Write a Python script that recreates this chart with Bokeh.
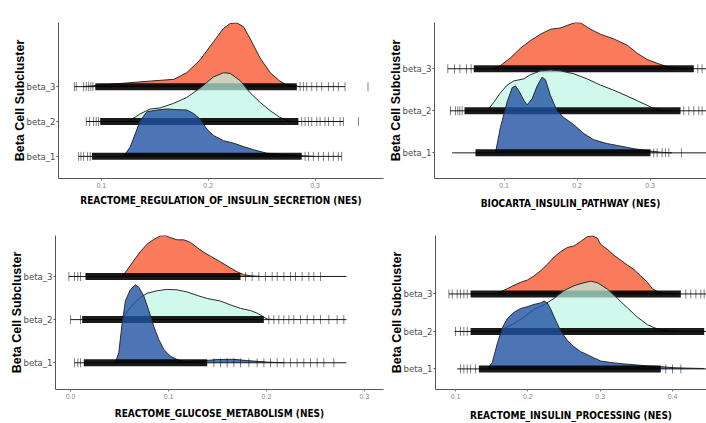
import math
from bokeh.plotting import figure
from bokeh.layouts import row, column, Spacer
from bokeh.models import FixedTicker, Range1d
from bokeh.embed import file_html
from bokeh.resources import INLINE

# ---------------- data ----------------
groups = ["beta_1", "beta_2", "beta_3"]
group_pos = [1, 2, 3]

# Panel 1: REACTOME_REGULATION_OF_INSULIN_SECRETION
p1_label = "REACTOME_REGULATION_OF_INSULIN_SECRETION (NES)"
p1_xticks = [0.1, 0.2, 0.3]
p1_b3_x = [0.0835, 0.108, 0.146, 0.168, 0.180, 0.1925, 0.205, 0.2143, 0.2206, 0.2268, 0.233, 0.239, 0.2486, 0.258, 0.267, 0.2735, 0.286]
p1_b3_h = [0, 0.066, 0.16, 0.21, 0.40, 0.77, 1.29, 1.67, 1.81, 1.83, 1.72, 1.39, 0.82, 0.40, 0.16, 0.05, 0]
p1_b2_x = [0.1255, 0.1364, 0.1458, 0.155, 0.1676, 0.180, 0.1925, 0.205, 0.2143, 0.2206, 0.230, 0.239, 0.2486, 0.258, 0.267, 0.2766]
p1_b2_h = [0, 0.22, 0.36, 0.39, 0.52, 0.69, 0.96, 1.28, 1.40, 1.38, 1.17, 0.83, 0.55, 0.31, 0.12, 0.0]
p1_b1_x = [0.1209, 0.1271, 0.1364, 0.1427, 0.152, 0.1614, 0.1707, 0.180, 0.1863, 0.1925, 0.1988, 0.205, 0.2143, 0.2237, 0.233, 0.2424, 0.2548, 0.2704, 0.286, 0.2984]
p1_b1_h = [0, 0.27, 1.02, 1.28, 1.33, 1.36, 1.34, 1.33, 1.23, 1.07, 0.78, 0.60, 0.45, 0.38, 0.28, 0.19, 0.09, 0.05, 0.02, 0]
p1_b3_range = [0.0748, 0.328]
p1_b3_dense = [0.0944, 0.2829]
p1_b3_ticks = [0.0748, 0.0766, 0.0835, 0.086, 0.0882, 0.0903, 0.0922, 0.286, 0.2891, 0.2922, 0.2969, 0.3016, 0.3062, 0.3125, 0.3171, 0.3218, 0.328, 0.3495]
p1_b2_range = [0.086, 0.3265]
p1_b2_dense = [0.099, 0.2844]
p1_b2_ticks = [0.086, 0.0891, 0.0928, 0.0953, 0.0975, 0.2875, 0.2907, 0.2938, 0.2969, 0.3016, 0.3047, 0.3093, 0.3125, 0.3171, 0.3234, 0.3265, 0.3405]
p1_b1_range = [0.0788, 0.3249]
p1_b1_dense = [0.0913, 0.2875]
p1_b1_ticks = [0.0788, 0.081, 0.0835, 0.0872, 0.0897, 0.2907, 0.2938, 0.2984, 0.3031, 0.3078, 0.3125, 0.3171, 0.3218, 0.3249]

# Panel 2: BIOCARTA_INSULIN_PATHWAY
p2_label = "BIOCARTA_INSULIN_PATHWAY (NES)"
p2_xticks = [0.1, 0.2, 0.3]
p2_b3_x = [0.0858, 0.095, 0.1087, 0.1224, 0.136, 0.1498, 0.1635, 0.1772, 0.1863, 0.1977, 0.2046, 0.2183, 0.232, 0.2502, 0.2685, 0.2822, 0.2959, 0.3096, 0.3233, 0.3416, 0.3598]
p2_b3_h = [0, 0.075, 0.26, 0.49, 0.67, 0.82, 0.94, 0.97, 1.03, 1.10, 1.09, 0.94, 0.82, 0.71, 0.56, 0.37, 0.22, 0.13, 0.05, 0.015, 0]
p2_b2_x = [0.0767, 0.0858, 0.095, 0.1041, 0.1132, 0.1269, 0.1361, 0.1498, 0.1635, 0.1772, 0.1954, 0.2137, 0.232, 0.2502, 0.2685, 0.2822, 0.2959, 0.305, 0.3142, 0.3279]
p2_b2_h = [0, 0.20, 0.43, 0.61, 0.71, 0.76, 0.86, 0.95, 0.97, 0.95, 0.88, 0.76, 0.61, 0.49, 0.35, 0.24, 0.13, 0.05, 0.015, 0]
p2_b1_x = [0.0881, 0.095, 0.1041, 0.111, 0.1155, 0.12, 0.127, 0.1315, 0.1384, 0.1452, 0.152, 0.1566, 0.1635, 0.1726, 0.1817, 0.1954, 0.2091, 0.2228, 0.2411, 0.2594, 0.2776, 0.2959, 0.3142, 0.33]
p2_b1_h = [0, 0.61, 1.21, 1.55, 1.59, 1.48, 1.25, 1.14, 1.29, 1.59, 1.80, 1.74, 1.36, 0.99, 0.84, 0.67, 0.46, 0.31, 0.22, 0.16, 0.10, 0.05, 0.015, 0]
p2_b3_range = [0.0228, 0.38]
p2_b3_dense = [0.0584, 0.3598]
p2_b3_ticks = [0.0228, 0.032, 0.0393, 0.0484, 0.0548, 0.3653, 0.3712]
p2_b2_range = [0.0256, 0.38]
p2_b2_dense = [0.0457, 0.3416]
p2_b2_ticks = [0.0265, 0.0333, 0.0365, 0.0393, 0.0425, 0.3461, 0.353, 0.3598, 0.3667, 0.3712]
p2_b1_range = [0.0288, 0.38]
p2_b1_dense = [0.0607, 0.3005]
p2_b1_ticks = [0.305, 0.3096, 0.3164, 0.321, 0.3256, 0.3429]

# Panel 3: REACTOME_GLUCOSE_METABOLISM
p3_label = "REACTOME_GLUCOSE_METABOLISM (NES)"
p3_xticks = [0.0, 0.1, 0.2, 0.3]
p3_b3_x = [0.0527, 0.0578, 0.0646, 0.0714, 0.0782, 0.085, 0.0918, 0.0969, 0.102, 0.1088, 0.1156, 0.1224, 0.1293, 0.136, 0.1429, 0.153, 0.163, 0.170, 0.1769, 0.1837, 0.1939]
p3_b3_h = [0, 0.15, 0.37, 0.58, 0.75, 0.86, 0.94, 0.95, 0.90, 0.85, 0.85, 0.79, 0.67, 0.56, 0.47, 0.34, 0.20, 0.11, 0.04, 0.015, 0]
p3_b2_x = [0.0527, 0.0578, 0.0646, 0.0714, 0.0782, 0.0884, 0.0986, 0.1088, 0.119, 0.1293, 0.1395, 0.1463, 0.1531, 0.1633, 0.1735, 0.1837, 0.1905, 0.1973, 0.2007, 0.2075]
p3_b2_h = [0, 0.19, 0.37, 0.52, 0.61, 0.67, 0.70, 0.69, 0.64, 0.56, 0.49, 0.46, 0.43, 0.34, 0.26, 0.21, 0.15, 0.06, 0.015, 0]
p3_b1_x = [0.0459, 0.0493, 0.0527, 0.0561, 0.0612, 0.0663, 0.0697, 0.0748, 0.0799, 0.085, 0.0901, 0.0952, 0.102, 0.1088, 0.1156, 0.1327, 0.1497, 0.1667, 0.1803, 0.2007, 0.2177]
p3_b1_h = [0, 0.24, 0.91, 1.44, 1.70, 1.81, 1.75, 1.55, 1.21, 0.84, 0.54, 0.31, 0.15, 0.075, 0.03, 0.04, 0.075, 0.08, 0.05, 0.015, 0]
p3_b3_range = [-0.0017, 0.2816]
p3_b3_dense = [0.0153, 0.1735]
p3_b3_ticks = [-0.0017, 0.0041, 0.0075, 0.0102, 0.1786, 0.1854, 0.1922, 0.199, 0.2058, 0.2109, 0.2177, 0.2245, 0.2296, 0.2364, 0.2432, 0.2483, 0.2551]
p3_b2_range = [0.0, 0.2816]
p3_b2_dense = [0.0119, 0.1973]
p3_b2_ticks = [0.0, 0.0102, 0.2024, 0.2075, 0.2126, 0.2177, 0.2228, 0.2279, 0.2347, 0.2415, 0.2483, 0.2551, 0.2636, 0.2721, 0.2789]
p3_b1_range = [0.0041, 0.2816]
p3_b1_dense = [0.0136, 0.1395]
p3_b1_ticks = [0.0041, 0.0075, 0.0102, 0.1463, 0.1531, 0.1599, 0.1667, 0.1735, 0.182, 0.1905, 0.1973, 0.2041, 0.2109, 0.2177, 0.2245, 0.2313, 0.2381, 0.2449, 0.2517, 0.2585, 0.2687]

# Panel 4: REACTOME_INSULIN_PROCESSING
p4_label = "REACTOME_INSULIN_PROCESSING (NES)"
p4_xticks = [0.1, 0.2, 0.3, 0.4]
p4_b3_x = [0.1531, 0.1623, 0.1715, 0.1808, 0.19, 0.1992, 0.2084, 0.2177, 0.2269, 0.2361, 0.2454, 0.2546, 0.2638, 0.273, 0.2823, 0.2892, 0.2961, 0.3007, 0.31, 0.3192, 0.3284, 0.3377, 0.3469, 0.3561, 0.3653, 0.3723, 0.3792, 0.3884, 0.4023]
p4_b3_h = [0, 0.06, 0.14, 0.23, 0.31, 0.37, 0.48, 0.62, 0.79, 0.98, 1.13, 1.24, 1.28, 1.40, 1.53, 1.55, 1.49, 1.32, 1.19, 1.03, 0.90, 0.77, 0.65, 0.48, 0.31, 0.14, 0.06, 0.015, 0]
p4_b2_x = [0.1577, 0.1669, 0.1808, 0.1946, 0.2084, 0.2223, 0.2361, 0.25, 0.2638, 0.2777, 0.2869, 0.2961, 0.31, 0.3238, 0.3377, 0.3515, 0.3653, 0.3746, 0.3838, 0.3976, 0.4069]
p4_b2_h = [0, 0.08, 0.21, 0.38, 0.59, 0.71, 0.88, 1.09, 1.22, 1.30, 1.34, 1.30, 1.13, 0.88, 0.63, 0.38, 0.18, 0.10, 0.04, 0.01, 0]
p4_b1_x = [0.1438, 0.1508, 0.1577, 0.1646, 0.1715, 0.1808, 0.19, 0.1992, 0.2084, 0.2177, 0.2223, 0.2269, 0.2315, 0.2384, 0.2454, 0.2546, 0.2638, 0.273, 0.2823, 0.2915, 0.3007, 0.3146, 0.3284, 0.3469, 0.3653, 0.3838, 0.4023, 0.4207, 0.4438]
p4_b1_h = [0, 0.17, 0.67, 1.09, 1.34, 1.51, 1.61, 1.66, 1.72, 1.76, 1.81, 1.76, 1.60, 1.30, 1.01, 0.76, 0.59, 0.46, 0.38, 0.29, 0.21, 0.17, 0.14, 0.11, 0.08, 0.06, 0.03, 0.02, 0.01]
p4_b3_range = [0.0908, 0.45]
p4_b3_dense = [0.1208, 0.4115]
p4_b3_ticks = [0.0908, 0.0954, 0.1023, 0.1069, 0.1115, 0.1162, 0.4184, 0.4253, 0.4323, 0.4392, 0.4438]
p4_b2_range = [0.0986, 0.45]
p4_b2_dense = [0.1208, 0.4438]
p4_b2_ticks = [0.1, 0.1069, 0.1115, 0.1162]
p4_b1_range = [0.1023, 0.45]
p4_b1_dense = [0.1323, 0.3838]
p4_b1_ticks = [0.1069, 0.1115, 0.1162, 0.1208, 0.1277, 0.3907, 0.4, 0.4115]

# ---------------- styling ----------------
FILL = {3: ("#F97B5B", 1.0), 2: ("#BDF5E6", 0.7), 1: ("#2152A3", 0.8)}
NARROW = "'DejaVu Sans Condensed', 'Liberation Sans Narrow', 'Liberation Sans', sans-serif"


def panel(width, height, borders, xr, yr, xticks, xlabel, dens, rugs, xl_standoff=3):
    left, right, top, bottom = borders
    p = figure(width=width, height=height, output_backend="svg", toolbar_location=None,
               x_range=Range1d(*xr), y_range=Range1d(*yr),
               min_border_left=left, min_border_right=right,
               min_border_top=top, min_border_bottom=bottom)
    p.outline_line_color = None
    p.xgrid.visible = False
    p.ygrid.visible = False
    p.background_fill_color = "white"

    for base in [3, 2, 1]:
        xs, hs = dens[base]
        color, alpha = FILL[base]
        ys = [base + h for h in hs]
        p.varea(x=xs, y1=[base] * len(xs), y2=ys, fill_color=color, fill_alpha=alpha)
        p.line(xs, ys, line_color="#2b2b2b", line_width=1)
        rng, dense, ticks = rugs[base]
        p.line(rng, [base, base], line_color="#1a1a1a", line_width=1)
        p.rect(x=[(dense[0] + dense[1]) / 2], y=[base], width=[dense[1] - dense[0]],
               height=7, height_units="screen", fill_color="black", fill_alpha=0.9,
               line_color=None)
        p.scatter(ticks, [base] * len(ticks), marker="dash", size=9, angle=math.pi / 2,
                  line_color="black", line_alpha=0.5, line_width=1)

    ax = p.yaxis[0]
    ax.ticker = FixedTicker(ticks=group_pos)
    ax.major_label_overrides = {pos: g for pos, g in zip(group_pos, groups)}
    ax.axis_label = "Beta Cell Subcluster"
    ax.axis_label_text_font = "Liberation Sans"
    ax.axis_label_text_font_style = "bold"
    ax.axis_label_text_font_size = "12.5px"
    ax.axis_label_text_color = "black"
    ax.axis_label_standoff = -3
    ax.major_label_text_font = NARROW
    ax.major_label_text_font_size = "9.5px"
    ax.major_label_text_color = "#4d4d4d"
    ax.major_label_standoff = 1
    ax.major_tick_out = 2
    ax.major_tick_in = 0
    ax.minor_tick_out = 0
    ax.minor_tick_in = 0
    ax.axis_line_color = "#555555"
    ax.major_tick_line_color = "#555555"

    bx = p.xaxis[0]
    bx.ticker = FixedTicker(ticks=xticks)
    bx.major_label_overrides = {t: f"{t:.1f}" for t in xticks}
    bx.axis_label = xlabel
    bx.axis_label_text_font = NARROW
    bx.axis_label_text_font_style = "bold"
    bx.axis_label_text_font_size = "10px"
    bx.axis_label_text_color = "black"
    bx.axis_label_standoff = xl_standoff
    bx.major_label_text_font = "Liberation Sans"
    bx.major_label_text_font_size = "7px"
    bx.major_label_text_color = "#888888"
    bx.major_label_standoff = 2
    bx.major_tick_out = 2
    bx.major_tick_in = 0
    bx.minor_tick_out = 0
    bx.minor_tick_in = 0
    bx.axis_line_color = "#555555"
    bx.major_tick_line_color = "#777777"
    return p


f1 = panel(377, 215, (50, 2, 22, 37), (0.06, 0.364), (0.365, 4.84), p1_xticks, p1_label,
           {3: (p1_b3_x, p1_b3_h), 2: (p1_b2_x, p1_b2_h), 1: (p1_b1_x, p1_b1_h)},
           {3: (p1_b3_range, p1_b3_dense, p1_b3_ticks), 2: (p1_b2_range, p1_b2_dense, p1_b2_ticks),
            1: (p1_b1_range, p1_b1_dense, p1_b1_ticks)}, xl_standoff=4)
f2 = panel(321, 215, (49, 0, 17, 34), (0.0046, 0.3772), (0.39, 4.1), p2_xticks, p2_label,
           {3: (p2_b3_x, p2_b3_h), 2: (p2_b2_x, p2_b2_h), 1: (p2_b1_x, p2_b1_h)},
           {3: (p2_b3_range, p2_b3_dense, p2_b3_ticks), 2: (p2_b2_range, p2_b2_dense, p2_b2_ticks),
            1: (p2_b1_range, p2_b1_dense, p2_b1_ticks)}, xl_standoff=7)
f3 = panel(379, 208, (49, 2, 20, 30), (-0.0153, 0.3194), (0.38, 3.95), p3_xticks, p3_label,
           {3: (p3_b3_x, p3_b3_h), 2: (p3_b2_x, p3_b2_h), 1: (p3_b1_x, p3_b1_h)},
           {3: (p3_b3_range, p3_b3_dense, p3_b3_ticks), 2: (p3_b2_range, p3_b2_dense, p3_b2_ticks),
            1: (p3_b1_range, p3_b1_dense, p3_b1_ticks)}, xl_standoff=6)
f4 = panel(321, 208, (50, 0, 13, 33), (0.0723, 0.447), (0.45, 4.56), p4_xticks, p4_label,
           {3: (p4_b3_x, p4_b3_h), 2: (p4_b2_x, p4_b2_h), 1: (p4_b1_x, p4_b1_h)},
           {3: (p4_b3_range, p4_b3_dense, p4_b3_ticks), 2: (p4_b2_range, p4_b2_dense, p4_b2_ticks),
            1: (p4_b1_range, p4_b1_dense, p4_b1_ticks)}, xl_standoff=8)

layout = column(row(Spacer(width=8, height=215), f1, f2),
                row(Spacer(width=6, height=208), f3, f4))
open("out.html", "w").write(file_html(layout, INLINE))
